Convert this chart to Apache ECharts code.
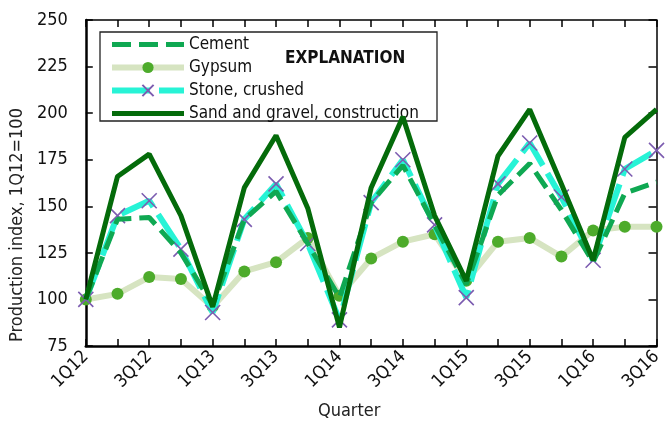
<!DOCTYPE html>
<html><head><meta charset="utf-8">
<script src="https://cdn.jsdelivr.net/npm/echarts@6/dist/echarts.min.js"></script>
<style>html,body{margin:0;padding:0;background:#fff}#c{width:665px;height:425px}</style>
</head><body><div id="c"></div>
<script>
const quarters = ['1Q12','2Q12','3Q12','4Q12','1Q13','2Q13','3Q13','4Q13','1Q14','2Q14','3Q14','4Q14','1Q15','2Q15','3Q15','4Q15','1Q16','2Q16','3Q16'];
const cement = [100,143,144,125,97,143,158,130,101,152,172,140,108,156,173,148,120,157,163];
const gypsum = [100,103,112,111,96,115,120,133,102,122,131,135,110,131,133,123,137,139,139];
const stone  = [100,145,153,127,93,143,162,130,89,152,175,140,101,162,184,155,121,170,180];
const sand   = [100,166,178,145,96,160,188,149,85,160,198,145,110,177,202,162,121,187,202];
const yMin = 75, yMax = 250, yStep = 25;
const seriesNames = ['Cement','Gypsum','Stone, crushed','Sand and gravel, construction'];

const FONT = "'Liberation Sans Narrow','DejaVu Sans Condensed','Liberation Sans',sans-serif";
const chart = echarts.init(document.getElementById('c'), null, {renderer:'canvas'});
const xMark = 'path://M0,0L10,10M10,0L0,10';
chart.setOption({
  animation:false,
  backgroundColor:'#fff',
  textStyle:{fontFamily:FONT},
  grid:{left:83,right:2,top:20,bottom:76,containLabel:false},
  legend:{
    orient:'vertical', left:104, top:31, itemWidth:72, itemHeight:14, itemGap:6,
    data:[
      {name:seriesNames[0], itemStyle:{opacity:0}, lineStyle:{width:5}},
      {name:seriesNames[1], lineStyle:{width:6}},
      {name:seriesNames[2], lineStyle:{width:6}},
      {name:seriesNames[3], itemStyle:{opacity:0}, lineStyle:{width:5}}
    ],
    textStyle:{fontFamily:FONT,fontSize:17,color:'#111'},
    selectedMode:false
  },
  graphic:[
    {type:'rect',shape:{x:100,y:32,width:337,height:89},style:{fill:'none',stroke:'#222',lineWidth:1.3},z:-1},
    {type:'text',left:285,top:50,style:{text:'EXPLANATION',font:"bold 17px "+FONT,fill:'#111'}}
  ],
  xAxis:[{
    type:'category', data:quarters, boundaryGap:false,
    axisLine:{lineStyle:{color:'#000',width:2.5}},
    axisTick:{inside:true,length:7,interval:0,lineStyle:{color:'#000',width:1.5}},
    axisLabel:{interval:1,rotate:45,fontSize:18,color:'#111',margin:8,fontFamily:FONT},
    splitLine:{show:false},
    name:'Quarter', nameLocation:'middle', nameGap:56,
    nameTextStyle:{fontSize:18,color:'#222',fontFamily:FONT,padding:[0,44,0,0]}
  },{
    type:'category', data:quarters, boundaryGap:false, position:'top',
    axisLine:{lineStyle:{color:'#000',width:1.5}},
    axisTick:{inside:true,length:7,interval:0,lineStyle:{color:'#000',width:1.5}},
    axisLabel:{show:false}, splitLine:{show:false}
  }],
  yAxis:[{
    type:'value', min:yMin, max:yMax, interval:yStep,
    axisLine:{show:true,lineStyle:{color:'#000',width:2.5}},
    axisTick:{show:true,inside:true,length:7,lineStyle:{color:'#000',width:1.5}},
    axisLabel:{fontSize:18,color:'#111',margin:18,fontFamily:FONT},
    splitLine:{show:false},
    name:'Production index, 1Q12=100', nameLocation:'middle', nameGap:52,
    nameTextStyle:{fontSize:18,color:'#222',fontFamily:FONT,padding:[0,84,0,0]}
  },{
    type:'value', min:yMin, max:yMax, interval:yStep, position:'right',
    axisLine:{show:true,lineStyle:{color:'#000',width:1.5}},
    axisTick:{show:true,inside:true,length:8,lineStyle:{color:'#000',width:1.5}},
    axisLabel:{show:false}, splitLine:{show:false}
  }],
  series:[
    {name:seriesNames[1],type:'line',data:gypsum,z:2,symbol:'circle',symbolSize:12,showSymbol:true,
     itemStyle:{color:'#4dab2b'},lineStyle:{color:'#d6e4c1',width:6}},
    {name:seriesNames[2],type:'line',data:stone,z:3,symbol:xMark,symbolSize:15,
     itemStyle:{color:'#7c5cb0',borderColor:'#7c5cb0',borderWidth:1.6},
     lineStyle:{color:'#27f3d6',width:6,type:[38,9]}},
    {name:seriesNames[0],type:'line',data:cement,z:4,symbol:'none',
     itemStyle:{color:'#0fa852'},lineStyle:{color:'#0fa852',width:5,type:[19,8]}},
    {name:seriesNames[3],type:'line',data:sand,z:5,symbol:'none',
     itemStyle:{color:'#046b0a'},lineStyle:{color:'#046b0a',width:5}}
  ]
});
</script></body></html>
